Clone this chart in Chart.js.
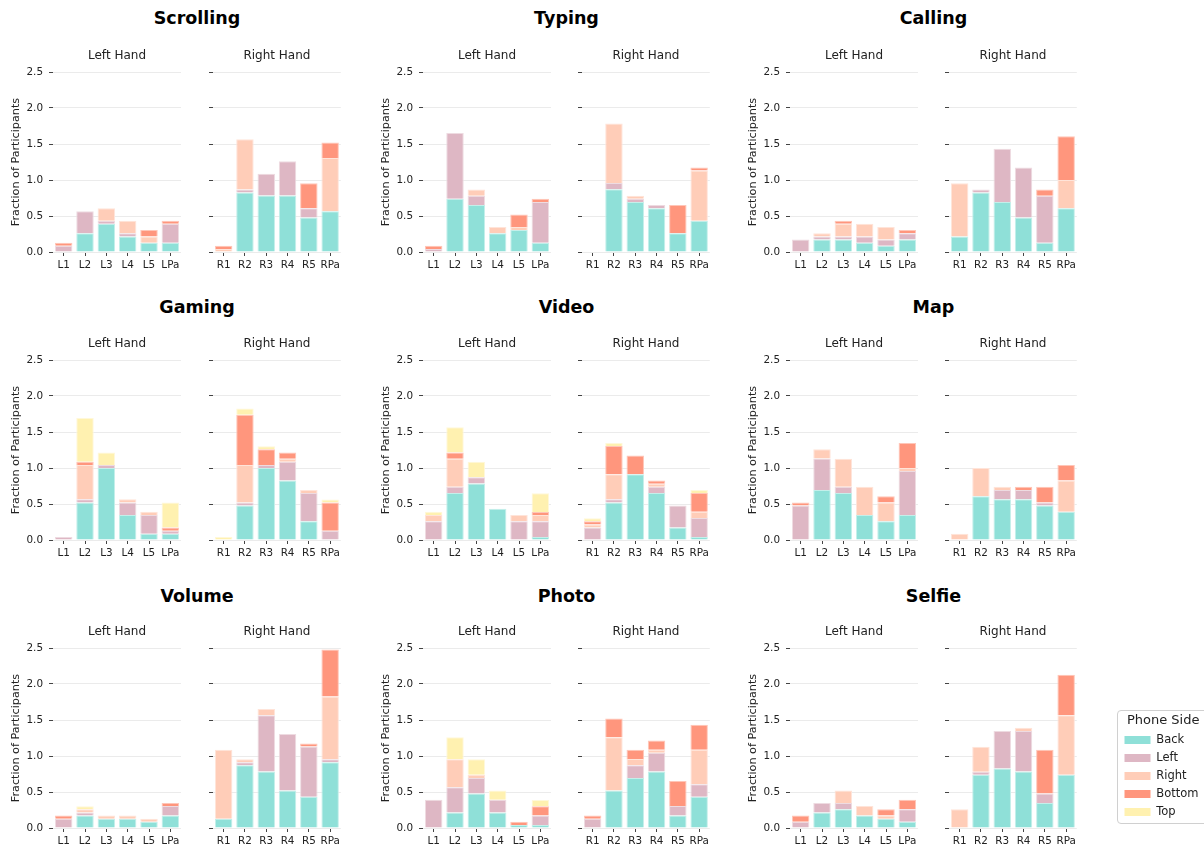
<!DOCTYPE html>
<html>
<head>
<meta charset="utf-8">
<title>Phone side touched per grip</title>
<script src="https://cdn.jsdelivr.net/npm/chart.js@4.4.1/dist/chart.umd.min.js"></script>
<style>
  html, body { margin: 0; padding: 0; background: #fff; }
  body { width: 1204px; height: 850px; position: relative; overflow: hidden; font-family: "DejaVu Sans", sans-serif; }
  canvas { position: absolute; }
  .task-title { position: absolute; font: bold 17.5px "DejaVu Sans", sans-serif; color: #000; transform: translate(-50%, -50%); white-space: nowrap; }
  #legendBox { position: absolute; left: 1117px; top: 710px; width: 100px; height: 112px; border: 1px solid #d0d0d0; border-radius: 4px; overflow: hidden; background: #fff; }
  #legendBox canvas { left: 0; top: 0; }
</style>
</head>
<body>
<div id="legendBox"><canvas id="legendCanvas" width="200" height="160"></canvas></div>
<script>
// ---- categories ----
const TASKS = ['Scrolling', 'Typing', 'Calling', 'Gaming', 'Video', 'Map', 'Volume', 'Photo', 'Selfie'];
const LEFT_LABELS = ['L1', 'L2', 'L3', 'L4', 'L5', 'LPa'];
const RIGHT_LABELS = ['R1', 'R2', 'R3', 'R4', 'R5', 'RPa'];
const SIDES = ['Back', 'Left', 'Right', 'Bottom', 'Top'];
const Y_TICKS = [0, 0.5, 1.0, 1.5, 2.0, 2.5];

// ---- values: one row per phone side (Back, Left, Right, Bottom, Top), one column per grip ----
const scrollingLeft = [
  [0, 0.261, 0.391, 0.217, 0.130, 0.130],
  [0.087, 0.304, 0.043, 0.043, 0, 0.261],
  [0, 0, 0.174, 0.174, 0.087, 0],
  [0.043, 0, 0, 0, 0.087, 0.043],
  [0, 0, 0, 0, 0, 0]
];
const scrollingRight = [
  [0, 0.826, 0.783, 0.783, 0.478, 0.565],
  [0, 0.043, 0.304, 0.478, 0.130, 0],
  [0.043, 0.696, 0, 0, 0, 0.739],
  [0.043, 0, 0, 0, 0.348, 0.217],
  [0, 0, 0, 0, 0, 0]
];
const typingLeft = [
  [0, 0.739, 0.652, 0.261, 0.304, 0.130],
  [0.043, 0.913, 0.130, 0, 0, 0.565],
  [0, 0, 0.087, 0.087, 0.043, 0],
  [0.043, 0, 0, 0, 0.174, 0.043],
  [0, 0, 0, 0, 0, 0]
];
const typingRight = [
  [0, 0.870, 0.696, 0.609, 0.261, 0.435],
  [0, 0.087, 0.043, 0.043, 0, 0],
  [0, 0.826, 0.043, 0, 0, 0.696],
  [0, 0, 0, 0, 0.391, 0.043],
  [0, 0, 0, 0, 0, 0]
];
const callingLeft = [
  [0, 0.174, 0.174, 0.130, 0.087, 0.174],
  [0.174, 0.043, 0.043, 0.087, 0.087, 0.087],
  [0, 0.043, 0.174, 0.174, 0.174, 0],
  [0, 0, 0.043, 0, 0, 0.043],
  [0, 0, 0, 0, 0, 0]
];
const callingRight = [
  [0.217, 0.826, 0.696, 0.478, 0.130, 0.609],
  [0, 0.043, 0.739, 0.696, 0.652, 0],
  [0.739, 0, 0, 0, 0, 0.391],
  [0, 0, 0, 0, 0.087, 0.609],
  [0, 0, 0, 0, 0, 0]
];
const gamingLeft = [
  [0, 0.522, 1.0, 0.348, 0.087, 0.087],
  [0.043, 0.043, 0.043, 0.174, 0.261, 0.043],
  [0, 0.478, 0, 0.043, 0.043, 0],
  [0, 0.043, 0, 0, 0, 0.043],
  [0, 0.609, 0.174, 0, 0, 0.348]
];
const gamingRight = [
  [0, 0.478, 1.0, 0.826, 0.261, 0],
  [0, 0.043, 0.043, 0.261, 0.391, 0.130],
  [0, 0.522, 0, 0.043, 0.043, 0],
  [0, 0.696, 0.217, 0.087, 0, 0.391],
  [0.043, 0.087, 0.043, 0, 0, 0.043]
];
const videoLeft = [
  [0, 0.652, 0.783, 0.435, 0, 0.043],
  [0.261, 0.087, 0.087, 0, 0.261, 0.217],
  [0.087, 0.391, 0, 0, 0.087, 0.087],
  [0, 0.087, 0, 0, 0, 0.043],
  [0.043, 0.348, 0.217, 0, 0, 0.261]
];
const videoRight = [
  [0, 0.522, 0.913, 0.652, 0.174, 0.043],
  [0.174, 0.043, 0, 0.087, 0.304, 0.261],
  [0.043, 0.348, 0, 0.043, 0, 0.087],
  [0.043, 0.391, 0.261, 0.043, 0, 0.261],
  [0.043, 0.043, 0, 0, 0, 0.043]
];
const mapLeft = [
  [0, 0.696, 0.652, 0.348, 0.261, 0.348],
  [0.478, 0.435, 0.087, 0, 0, 0.609],
  [0, 0.130, 0.391, 0.391, 0.261, 0.043],
  [0.043, 0, 0, 0, 0.087, 0.348],
  [0, 0, 0, 0, 0, 0]
];
const mapRight = [
  [0, 0.609, 0.565, 0.565, 0.478, 0.391],
  [0, 0, 0.130, 0.130, 0.043, 0],
  [0.087, 0.391, 0.043, 0, 0, 0.435],
  [0, 0, 0, 0.043, 0.217, 0.217],
  [0, 0, 0, 0, 0, 0]
];
const volumeLeft = [
  [0, 0.174, 0.130, 0.130, 0.087, 0.174],
  [0.130, 0.043, 0, 0, 0, 0.130],
  [0, 0.043, 0.043, 0.043, 0.043, 0],
  [0.043, 0, 0, 0, 0, 0.043],
  [0, 0.043, 0, 0, 0, 0]
];
const volumeRight = [
  [0.130, 0.870, 0.783, 0.522, 0.435, 0.913],
  [0, 0.043, 0.783, 0.783, 0.696, 0.043],
  [0.957, 0.043, 0.087, 0, 0, 0.870],
  [0, 0, 0, 0, 0.043, 0.652],
  [0, 0, 0, 0, 0, 0]
];
const photoLeft = [
  [0, 0.217, 0.478, 0.217, 0.043, 0.043],
  [0.391, 0.348, 0.217, 0.174, 0, 0.130],
  [0, 0.391, 0.043, 0, 0, 0],
  [0, 0, 0, 0, 0.043, 0.130],
  [0, 0.304, 0.217, 0.130, 0, 0.087]
];
const photoRight = [
  [0, 0.522, 0.696, 0.783, 0.174, 0.435],
  [0.130, 0, 0.174, 0.261, 0.130, 0.174],
  [0, 0.739, 0.087, 0.043, 0, 0.478],
  [0.043, 0.261, 0.130, 0.130, 0.348, 0.348],
  [0, 0, 0, 0, 0, 0]
];
const selfieLeft = [
  [0, 0.217, 0.261, 0.174, 0.130, 0.087],
  [0.087, 0.130, 0.087, 0, 0, 0.174],
  [0, 0, 0.174, 0.130, 0.043, 0],
  [0.087, 0, 0, 0, 0.087, 0.130],
  [0, 0, 0, 0, 0, 0]
];
const selfieRight = [
  [0, 0.739, 0.826, 0.783, 0.348, 0.739],
  [0, 0.043, 0.522, 0.565, 0.130, 0],
  [0.261, 0.348, 0, 0.043, 0, 0.826],
  [0, 0, 0, 0, 0.609, 0.565],
  [0, 0, 0, 0, 0, 0]
];

const TASK_DATA = [
  [scrollingLeft, scrollingRight], [typingLeft, typingRight], [callingLeft, callingRight],
  [gamingLeft, gamingRight], [videoLeft, videoRight], [mapLeft, mapRight],
  [volumeLeft, volumeRight], [photoLeft, photoRight], [selfieLeft, selfieRight]
];

// ---- styling ----
const FONT = '"DejaVu Sans", sans-serif';
Chart.defaults.font.family = FONT;
const TEXT = '#222';
const FILL = ['#8fe0d8', '#deb7c4', '#ffcdb8', '#ff967d', '#fff1b0'];
const EDGE = ['#c4efea', '#eedbe1', '#ffe4d9', '#ffc6b8', '#fff8d9'];

// ---- grid placement ----
const COL_LEFT_X = [53, 423, 790];
const COL_RIGHT_X = [213, 582, 949];
const ROW_TOP_Y = [72, 360, 648];
const TITLE_Y = [18, 307, 596];
const PLOT_W = 128, PLOT_H = 180;
const Y_AXIS_W_LEFT = 53, Y_AXIS_W_RIGHT = 12;
const TOP_SPACE = 23, X_AXIS_H = 24, PAD_RIGHT = 2;
const SUBTITLE_GAP = 16;

// Hand caption centred over the plotting area (not the whole canvas)
const handCaption = {
  id: 'handCaption',
  afterDraw(chart, args, opts) {
    const { ctx, chartArea } = chart;
    ctx.save();
    ctx.font = '12px ' + FONT;
    ctx.fillStyle = TEXT;
    ctx.textAlign = 'center';
    ctx.textBaseline = 'middle';
    ctx.fillText(opts.text, (chartArea.left + chartArea.right) / 2, chartArea.top - SUBTITLE_GAP);
    ctx.restore();
  }
};

function drawPanel(x, y, labels, rows, isLeft) {
  const yw = isLeft ? Y_AXIS_W_LEFT : Y_AXIS_W_RIGHT;
  const cv = document.createElement('canvas');
  cv.width = yw + PLOT_W + PAD_RIGHT;
  cv.height = TOP_SPACE + PLOT_H + X_AXIS_H;
  cv.style.left = (x - yw) + 'px';
  cv.style.top = (y - TOP_SPACE) + 'px';
  document.body.appendChild(cv);

  new Chart(cv, {
    type: 'bar',
    data: {
      labels: labels,
      datasets: SIDES.map((side, i) => ({
        label: side,
        data: rows[i],
        backgroundColor: FILL[i],
        borderColor: EDGE[i],
        borderWidth: 1,
        barPercentage: 0.82,
        categoryPercentage: 1.0
      }))
    },
    plugins: [handCaption],
    options: {
      responsive: false,
      animation: false,
      devicePixelRatio: 1,
      layout: { padding: { left: 0, right: PAD_RIGHT, top: TOP_SPACE, bottom: 0 } },
      plugins: {
        legend: { display: false },
        tooltip: { enabled: false },
        handCaption: { text: isLeft ? 'Left Hand' : 'Right Hand' }
      },
      scales: {
        x: {
          stacked: true,
          border: { display: false },
          grid: { display: true, drawOnChartArea: false, drawTicks: true, tickLength: 4, tickColor: '#444', offset: false },
          ticks: { color: TEXT, font: { size: 10.4 }, padding: 3, maxRotation: 0, autoSkip: false },
          afterFit: s => { s.height = X_AXIS_H; }
        },
        y: {
          stacked: true,
          min: 0,
          max: 2.5,
          border: { display: false },
          grid: { color: '#ebebeb', lineWidth: 1, tickColor: '#444', tickLength: 4 },
          afterBuildTicks: s => { s.ticks = Y_TICKS.map(v => ({ value: v })); },
          ticks: {
            color: TEXT,
            font: { size: 10.4 },
            padding: 6,
            callback: v => isLeft ? Number(v).toFixed(1) : ''
          },
          title: {
            display: isLeft,
            text: 'Fraction of Participants',
            color: TEXT,
            font: { size: 11.2 },
            padding: { top: 9, bottom: 0 }
          },
          afterFit: s => { s.width = yw; }
        }
      }
    }
  });
}

TASKS.forEach((task, t) => {
  const row = Math.floor(t / 3), col = t % 3;
  const [leftRows, rightRows] = TASK_DATA[t];
  drawPanel(COL_LEFT_X[col], ROW_TOP_Y[row], LEFT_LABELS, leftRows, true);
  drawPanel(COL_RIGHT_X[col], ROW_TOP_Y[row], RIGHT_LABELS, rightRows, false);

  const title = document.createElement('div');
  title.className = 'task-title';
  title.textContent = task;
  title.style.left = ((COL_LEFT_X[col] + COL_RIGHT_X[col] + PLOT_W) / 2) + 'px';
  title.style.top = TITLE_Y[row] + 'px';
  document.body.appendChild(title);
});

// ---- shared legend ----
new Chart(document.getElementById('legendCanvas'), {
  type: 'bar',
  data: {
    labels: [],
    datasets: SIDES.map((side, i) => ({ label: side, data: [], backgroundColor: FILL[i], borderColor: EDGE[i], borderWidth: 0 }))
  },
  options: {
    responsive: false,
    animation: false,
    devicePixelRatio: 1,
    layout: { padding: 0 },
    scales: { x: { display: false }, y: { display: false } },
    plugins: {
      tooltip: { enabled: false },
      legend: {
        display: true,
        position: 'left',
        align: 'start',
        onClick: null,
        title: {
          display: true,
          text: 'Phone Side',
          color: TEXT,
          font: { size: 13, lineHeight: 1.0 },
          padding: { top: 3.5, bottom: 0.25 }
        },
        labels: {
          boxWidth: 26,
          boxHeight: 8,
          padding: 6.5,
          color: TEXT,
          font: { size: 11.5 }
        }
      }
    }
  }
});
</script>
</body>
</html>
